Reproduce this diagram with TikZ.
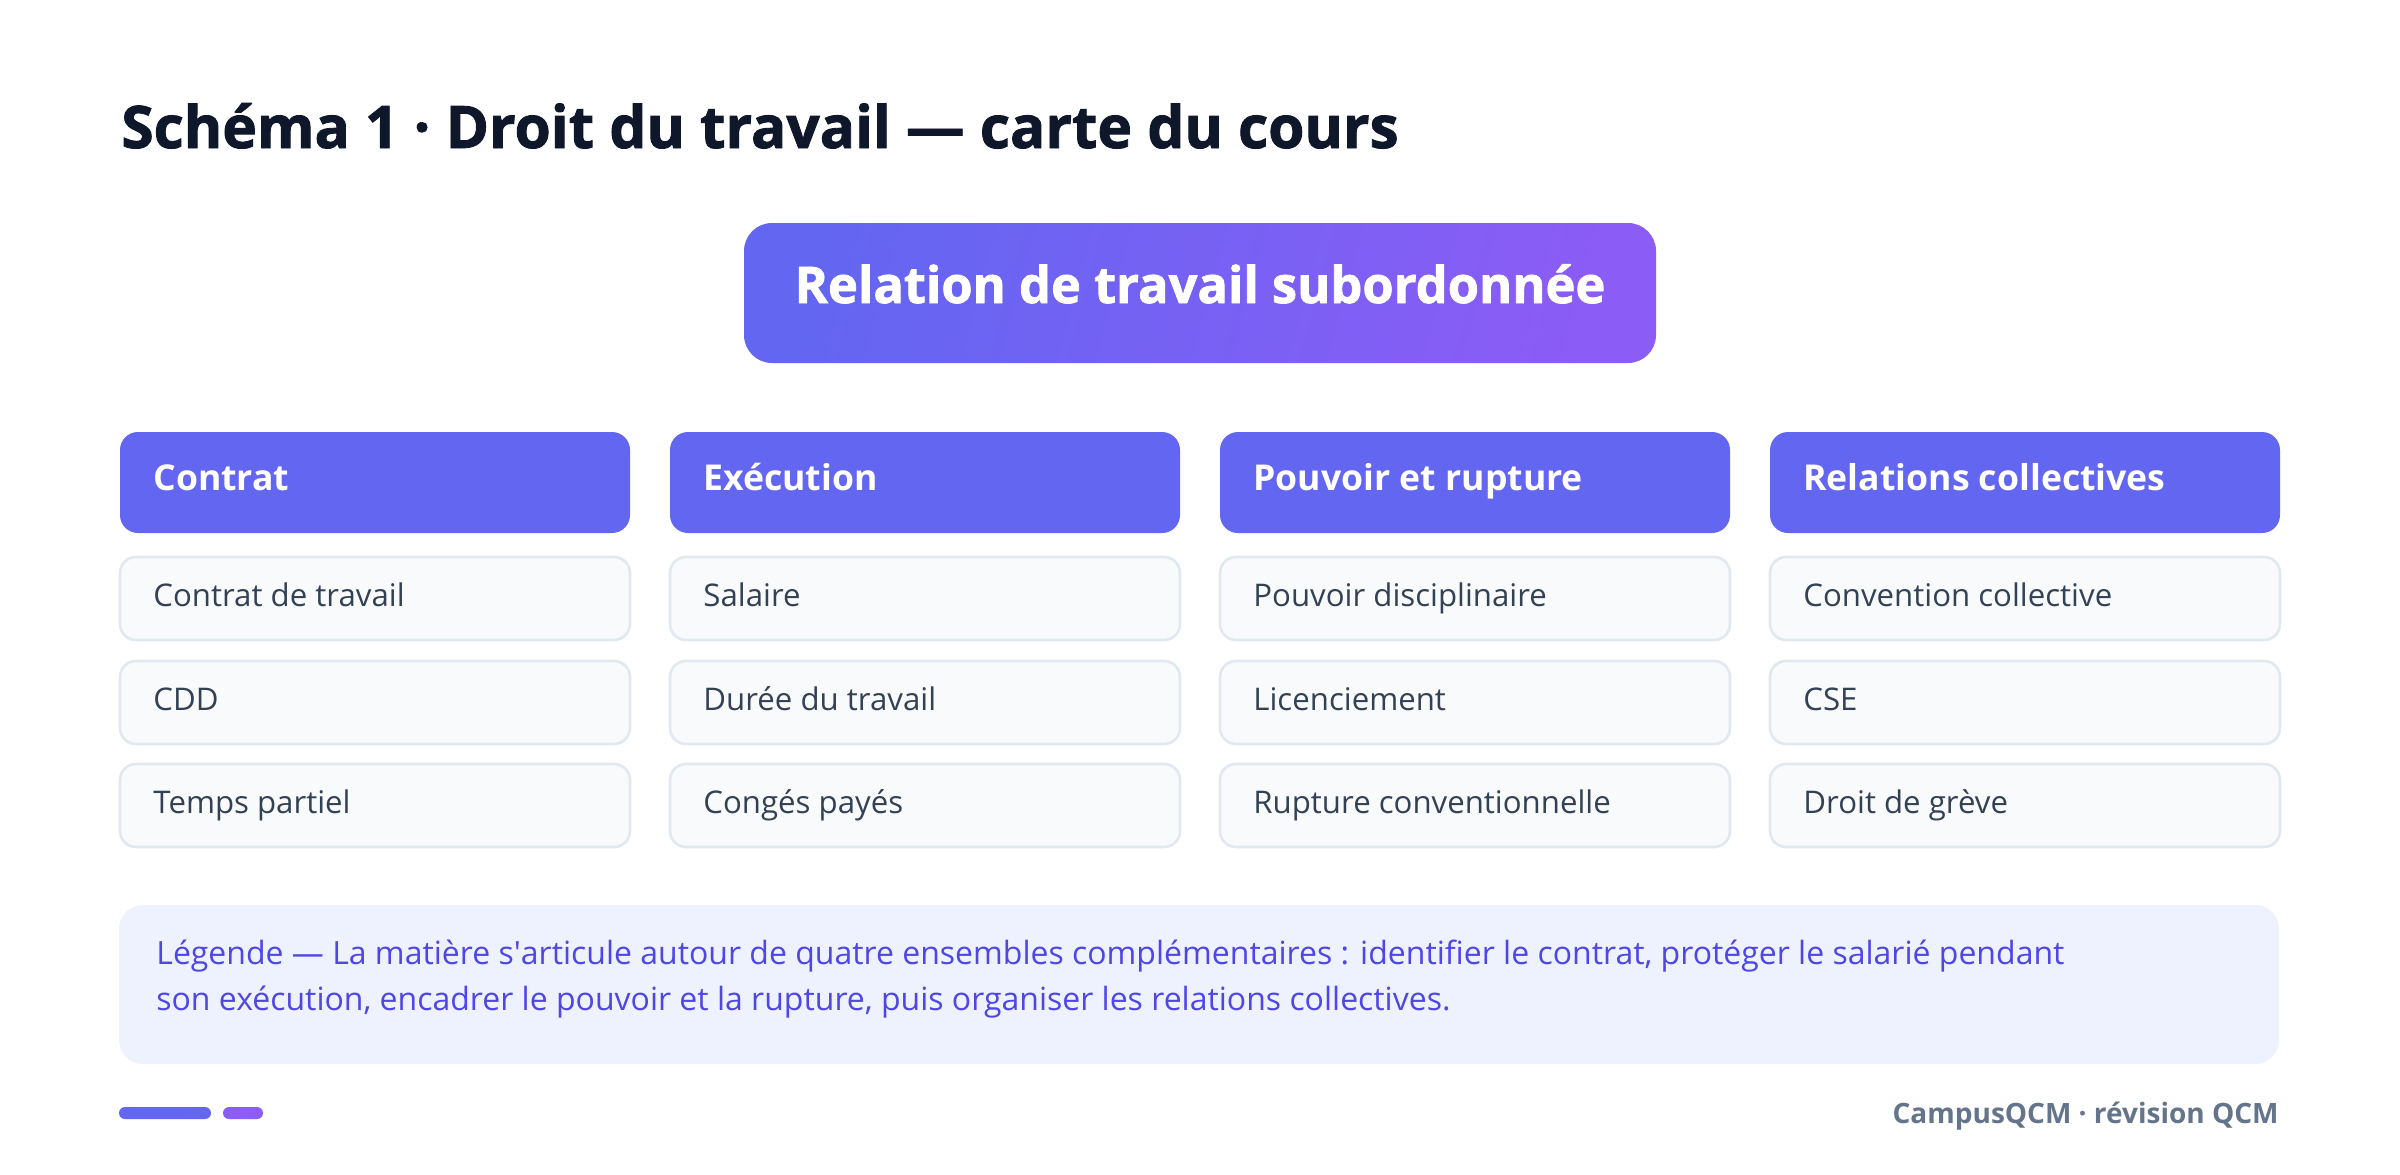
\documentclass[tikz,border=0pt]{standalone}
\usepackage{fontspec}
\setmainfont{Open Sans}
\newfontfamily\heavyfont{Open Sans}[BoldFeatures={FakeBold=1.5}]
\definecolor{titlec}{HTML}{0F172A}
\definecolor{ind}{HTML}{6366F1}
\definecolor{vio}{HTML}{8B5CF6}
\definecolor{itemfill}{HTML}{F8FAFC}
\definecolor{itemdraw}{HTML}{E2E8F0}
\definecolor{itemtext}{HTML}{334155}
\definecolor{legfill}{HTML}{EEF2FF}
\definecolor{legtext}{HTML}{4F46E5}
\definecolor{foot}{HTML}{64748B}
\tikzset{
  headbox/.style={fill=ind, rounded corners=9pt},
  itembox/.style={fill=itemfill, draw=itemdraw, line width=1.3pt, rounded corners=8pt},
  headtext/.style={anchor=base west, inner sep=0pt, text=white, font=\bfseries\fontsize{17.8}{22}\selectfont},
  itemtext/.style={anchor=base west, inner sep=0pt, text=itemtext, font=\fontsize{15.6}{20}\selectfont},
  legline/.style={anchor=base west, inner sep=0pt, text=legtext, font=\fontsize{16}{20}\selectfont},
}
\begin{document}
\begin{tikzpicture}[x=0.5pt,y=-0.5pt]
\useasboundingbox (0,0) rectangle (2400,1174);
\fill[white] (0,0) rectangle (2400,1174);
% title
\node[anchor=base west, inner sep=0pt, text=titlec, font=\heavyfont\bfseries\fontsize{29.3}{34}\selectfont] (title) at (121,148) {Schéma 1 · Droit du travail — carte du cours};
% main box
\path[left color=ind, right color=vio, shading angle=75, rounded corners=14pt] (744,223) rectangle (1656,363);
\coordinate (maincenter) at (1200,293);
\node[anchor=base, inner sep=0pt, text=white, font=\heavyfont\bfseries\fontsize{25.3}{30}\selectfont] (main) at (1200,303) {Relation de travail subordonnée};
% columns
\foreach \i/\head/\a/\b/\c in {0/Contrat/Contrat de travail/CDD/Temps partiel,
  1/Exécution/Salaire/Durée du travail/Congés payés,
  2/Pouvoir et rupture/Pouvoir disciplinaire/Licenciement/Rupture conventionnelle,
  3/Relations collectives/Convention collective/CSE/Droit de grève}{
  \pgfmathsetmacro{\xo}{120+550*\i}
  \path[headbox] (\xo,432) rectangle ++(510,101);
  \node[headtext] (h\i) at (\xo+33,490) {\head};
  \path[itembox] (\xo,557) rectangle ++(510,83);
  \node[itemtext] (a\i) at (\xo+33,606) {\a};
  \path[itembox] (\xo,661) rectangle ++(510,83);
  \node[itemtext] (b\i) at (\xo+33,710) {\b};
  \path[itembox] (\xo,764) rectangle ++(510,83);
  \node[itemtext] (c\i) at (\xo+33,813) {\c};
}
% legend
\path[fill=legfill, rounded corners=12pt] (119,905) rectangle (2279,1064);
\node[legline] (leg1) at (156,964) {Légende — La matière s\textquotesingle articule autour de quatre ensembles complémentaires : identifier le contrat, protéger le salarié pendant};
\node[legline] (leg2) at (156,1010) {son exécution, encadrer le pouvoir et la rupture, puis organiser les relations collectives.};
% footer
\path[fill=ind, rounded corners=3pt] (119,1107) rectangle (211,1119);
\path[fill=vio, rounded corners=3pt] (223,1107) rectangle (263,1119);
\node[anchor=base east, inner sep=0pt, text=foot, font=\bfseries\fontsize{14}{17}\selectfont] (footer) at (2279,1123) {CampusQCM · révision QCM};
\end{tikzpicture}
\end{document}
